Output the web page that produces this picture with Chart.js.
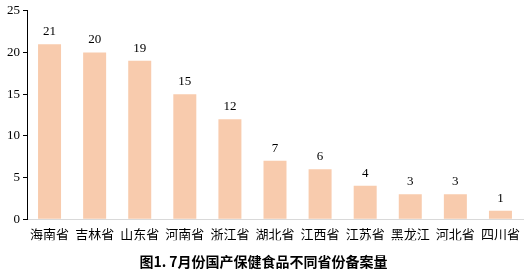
<!DOCTYPE html>
<html>
<head>
<meta charset="utf-8">
<script src="https://cdn.jsdelivr.net/npm/chart.js@4"></script>
<style>
  html, body { margin: 0; padding: 0; background: #fff; }
  #wrap { width: 531px; height: 280px; }
</style>
</head>
<body>
<div id="wrap"><canvas id="chart" width="531" height="280"></canvas></div>
<script>
const provinces = ['海南省', '吉林省', '山东省', '河南省', '浙江省', '湖北省', '江西省', '江苏省', '黑龙江', '河北省', '四川省'];
const filings = [21, 20, 19, 15, 12, 7, 6, 4, 3, 3, 1];
const yTicks = [0, 5, 10, 15, 20, 25];

// numbers above each bar
const barLabels = {
  id: 'barLabels',
  afterDatasetsDraw(chart) {
    const c = chart.ctx;
    const meta = chart.getDatasetMeta(0);
    c.save();
    c.font = '13px "Liberation Serif", serif';
    c.fillStyle = '#000';
    c.textAlign = 'center';
    c.textBaseline = 'bottom';
    meta.data.forEach((bar, i) => {
      const p = bar.getProps(['x', 'y'], true);
      c.fillText(filings[i], p.x, p.y - 6);
    });
    c.restore();
  }
};

new Chart(document.getElementById('chart'), {
  type: 'bar',
  data: {
    labels: provinces,
    datasets: [{
      data: filings,
      backgroundColor: '#f8cbad',
      categoryPercentage: 1,
      barPercentage: 0.51
    }]
  },
  plugins: [barLabels],
  options: {
    responsive: false,
    animation: false,
    layout: { padding: { left: 4, right: 8, top: 5, bottom: 10 } },
    plugins: {
      legend: { display: false },
      tooltip: { enabled: false },
      title: {
        display: true,
        position: 'bottom',
        text: '图1. 7月份国产保健食品不同省份备案量',
        color: '#000',
        font: { size: 14, weight: 'bold', family: '"Noto Sans CJK SC", sans-serif' },
        padding: { top: 13, bottom: 0 }
      }
    },
    scales: {
      x: {
        grid: { display: false },
        border: { color: '#d9d9d9', width: 1 },
        ticks: {
          color: '#000',
          font: { size: 13, lineHeight: 1, family: '"Noto Sans CJK SC", sans-serif' },
          padding: 0,
          maxRotation: 0,
          autoSkip: false
        }
      },
      y: {
        min: 0,
        max: 25,
        afterBuildTicks(axis) { axis.ticks = yTicks.map(v => ({ value: v })); },
        grid: { drawOnChartArea: false, drawTicks: true, tickLength: 4, color: '#000' },
        border: { color: '#000', width: 1 },
        ticks: {
          color: '#000',
          font: { size: 13, family: '"Liberation Serif", serif' },
          padding: 3
        }
      }
    }
  }
});
</script>
</body>
</html>
